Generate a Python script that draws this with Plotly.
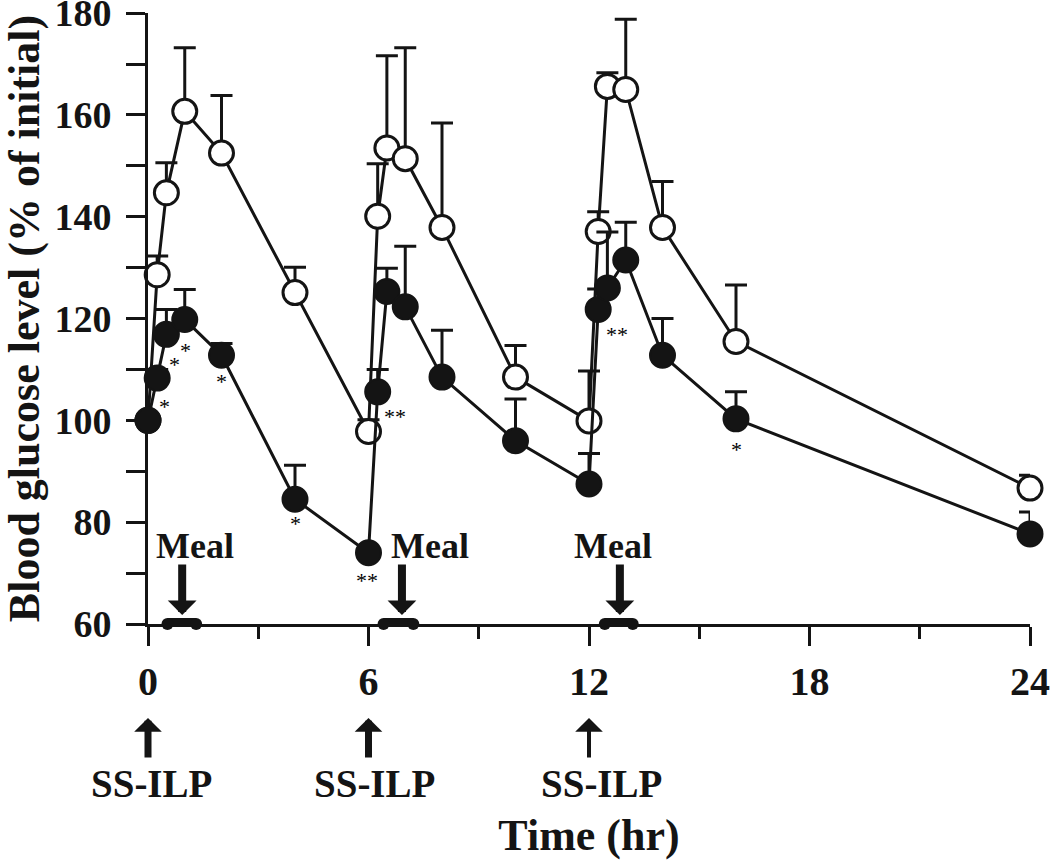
import plotly.graph_objects as go

# ---------------- data ----------------
time_h = [0, 0.25, 0.5, 1, 2, 4, 6, 6.25, 6.5, 7, 8, 10, 12, 12.25, 12.5, 13, 14, 16, 24]
control_mean = [100, 128.6, 144.7, 160.7, 152.5, 125.1, 97.8, 140.1, 153.5, 151.4,
                137.9, 108.5, 99.9, 137.1, 165.6, 165.0, 137.9, 115.5, 86.7]
control_sd = [0, 3.7, 5.9, 12.5, 11.3, 5.0, 2.3, 10.3, 18.1, 21.8,
              20.5, 6.2, 9.8, 3.9, 2.7, 13.8, 9.0, 11.1, 2.5]
ssilp_mean = [100, 108.3, 116.9, 119.8, 112.8, 84.5, 74.0, 105.6, 125.3, 122.3,
              108.5, 96.0, 87.5, 121.8, 126.0, 131.5, 112.8, 100.3, 77.7]
ssilp_sd = [0, 1.7, 4.9, 5.9, 2.3, 6.7, 0.5, 4.4, 4.6, 11.9,
            9.2, 8.2, 6.0, 4.0, 11.0, 7.4, 7.2, 5.3, 4.3]

sig_time = [0.25, 0.5, 1, 2, 4, 6, 6.25, 12.25, 16]
sig_label = ["*", "*", "*", "*", "*", "**", "**", "**", "*"]

dose_time = [0, 6, 12]
dose_label = ["SS-ILP", "SS-ILP", "SS-ILP"]
meal_start = [0.53, 6.41, 12.43]
meal_end = [1.31, 7.22, 13.19]
meal_arrow = [0.93, 6.91, 12.84]
meal_label = ["Meal", "Meal", "Meal"]

x_ticks = [0, 6, 12, 18, 24]
y_ticks = [60, 80, 100, 120, 140, 160, 180]

# ---------------- style ----------------
INK = "#141414"
FONT = "Liberation Serif"

fig = go.Figure()

# control (open circles)
fig.add_trace(go.Scatter(
    x=time_h, y=control_mean, mode="lines+markers",
    line=dict(color=INK, width=3),
    marker=dict(symbol="circle", size=24, color="white", line=dict(color=INK, width=3)),
    error_y=dict(type="data", array=control_sd, arrayminus=[0] * len(control_sd),
                 symmetric=False, color=INK, thickness=3, width=11),
    cliponaxis=False, showlegend=False))

# SS-ILP (filled circles)
fig.add_trace(go.Scatter(
    x=time_h, y=ssilp_mean, mode="lines+markers",
    line=dict(color=INK, width=3),
    marker=dict(symbol="circle", size=25, color=INK, line=dict(color=INK, width=2)),
    error_y=dict(type="data", array=ssilp_sd, arrayminus=[0] * len(ssilp_sd),
                 symmetric=False, color=INK, thickness=3, width=11),
    cliponaxis=False, showlegend=False))

# meal bars on the time axis
bx, by = [], []
for s, e in zip(meal_start, meal_end):
    bx += [s, e, None]
    by += [60, 60, None]
fig.add_trace(go.Scatter(
    x=bx, y=by, mode="lines+markers",
    line=dict(color=INK, width=12),
    marker=dict(symbol="circle", size=12, color=INK, line=dict(width=0)),
    cliponaxis=False, showlegend=False, hoverinfo="skip"))

# significance marks
sig_dx = {0.25: 7, 0.5: 8, 1: 1, 2: 0, 4: 0, 6: -2, 6.25: 17, 12.25: 19, 16: 0}
sig_dy = {0.25: 24, 0.5: 26, 1: 27, 2: 22, 4: 20, 6: 24, 6.25: 21, 12.25: 21, 16: 27}
for t, lab in zip(sig_time, sig_label):
    yv = ssilp_mean[time_h.index(t)]
    fig.add_annotation(x=t, y=yv, text=lab, showarrow=False,
                       xshift=sig_dx[t], yshift=-(sig_dy[t] + 4),
                       font=dict(family=FONT, size=22, color="#000000"))

# meal arrows + labels
meal_label_shift = [13, 28, -7]
for xa, lab, sh in zip(meal_arrow, meal_label, meal_label_shift):
    fig.add_annotation(x=xa, y=60, text="", showarrow=True, ax=0, ay=-52,
                       yshift=9, arrowhead=1, arrowwidth=8, arrowsize=0.6,
                       arrowcolor=INK, standoff=0)
    fig.add_annotation(x=xa, y=60, text=lab, showarrow=False,
                       xshift=sh, yshift=78, yanchor="middle",
                       font=dict(family=FONT, size=36, color=INK, weight="bold"))

# dosing arrows + labels
dose_arrow_w = [7, 7, 4]
dose_label_shift = [3, 6, 12]
for xd, lab, w, sh in zip(dose_time, dose_label, dose_arrow_w, dose_label_shift):
    fig.add_annotation(x=xd, y=60, text="", showarrow=True, ax=0, ay=41,
                       yshift=-94, arrowhead=1, arrowwidth=w, arrowsize=4.6 / w,
                       arrowcolor=INK, standoff=0)
    fig.add_annotation(x=xd, y=60, text=lab, showarrow=False,
                       xshift=sh, yshift=-159, yanchor="middle",
                       font=dict(family=FONT, size=39, color=INK, weight="bold"))

fig.update_layout(
    width=1050, height=862,
    margin=dict(l=148, r=20, t=13, b=238),
    paper_bgcolor="white", plot_bgcolor="white",
    font=dict(family=FONT, color=INK),
)
fig.update_xaxes(
    range=[0, 24], tickvals=x_ticks, ticktext=[str(v) for v in x_ticks],
    showline=True, linecolor=INK, linewidth=3, showgrid=False, zeroline=False,
    ticks="outside", ticklen=19, tickwidth=3, tickcolor=INK,
    minor=dict(dtick=3, ticks="outside", ticklen=12, tickwidth=3, tickcolor=INK, showgrid=False),
    tickfont=dict(family=FONT, size=40, color=INK, weight="bold"),
    ticklabelstandoff=1, ticklabeloverflow="allow", automargin=False,
    title=dict(text="Time (hr)", standoff=117,
               font=dict(family=FONT, size=44, color=INK, weight="bold")),
)
fig.update_yaxes(
    range=[60, 180.02], tickvals=y_ticks, ticktext=[str(v) for v in y_ticks],
    showline=True, linecolor=INK, linewidth=3, showgrid=False, zeroline=False,
    ticks="outside", ticklen=19, tickwidth=3, tickcolor=INK,
    minor=dict(dtick=10, ticks="outside", ticklen=19, tickwidth=3, tickcolor=INK, showgrid=False),
    tickfont=dict(family=FONT, size=38, color=INK, weight="bold"),
    ticklabelstandoff=7, ticklabeloverflow="allow", automargin=False,
    title=dict(text="Blood glucose level (% of initial)", standoff=30,
               font=dict(family=FONT, size=44, color=INK, weight="bold")),
)

fig.write_html(
    "out.html",
    config={"displayModeBar": False},
    post_script="document.body.style.margin='0px';document.body.style.overflow='hidden';",
)
